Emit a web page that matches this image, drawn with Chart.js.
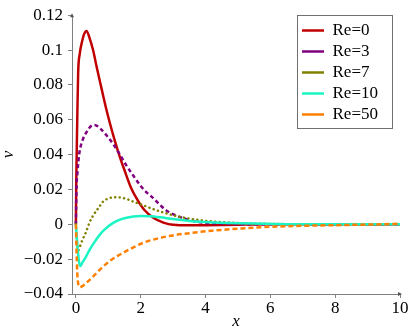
<!DOCTYPE html>
<html>
<head>
<meta charset="utf-8">
<script src="https://cdn.jsdelivr.net/npm/chart.js@4.4.1/dist/chart.umd.min.js"></script>
<style>
  body { margin: 0; background: #fff; }
  canvas { display: block; }
</style>
</head>
<body>
<canvas id="Chart" width="415" height="333"></canvas>
<script>
var names = ['Re=0', 'Re=3', 'Re=7', 'Re=10', 'Re=50']
var colors = ['#c00000', '#800080', '#808000', '#1af5c3', '#ff8000']
var dashes = [[], [4, 3], [0.1, 4.4], [], [5, 3]]
var caps = ['butt', 'butt', 'round', 'butt', 'butt']

var x0 = [0, 0.01, 0.02, 0.04, 0.07, 0.12, 0.18, 0.25, 0.33, 0.42, 0.53, 0.65, 0.79, 0.92, 1.05, 1.2, 1.35, 1.5, 1.7, 1.9, 2.1, 2.4, 2.7, 3.0, 3.5, 4, 5, 6, 8, 10]
var v0 = [0, 0.022, 0.035, 0.058, 0.087, 0.098, 0.104, 0.109, 0.111, 0.107, 0.1, 0.0895, 0.078, 0.0675, 0.058, 0.048, 0.039, 0.031, 0.021, 0.014, 0.0085, 0.0036, 0.001, -0.0003, -0.0006, -0.0005, -0.0002, 0, 0, 0]

var x3 = [0, 0.02, 0.05, 0.1, 0.15, 0.22, 0.3, 0.4, 0.53, 0.62, 0.75, 0.95, 1.15, 1.36, 1.55, 1.77, 2.0, 2.2, 2.39, 2.6, 2.8, 3.1, 3.5, 3.9, 4.5, 5, 6, 8, 10]
var v3 = [0, 0.021, 0.03, 0.04, 0.045, 0.049, 0.052, 0.055, 0.057, 0.0568, 0.055, 0.051, 0.046, 0.04, 0.034, 0.028, 0.022, 0.018, 0.015, 0.011, 0.0078, 0.005, 0.0025, 0.001, 0.0004, 0.0001, 0, 0, 0]

var x7 = [0, 0.03, 0.07, 0.12, 0.2, 0.3, 0.42, 0.53, 0.7, 0.84, 1.0, 1.2, 1.4, 1.6, 1.77, 2.0, 2.3, 2.6, 3.0, 3.4, 4, 5, 6, 8, 10]
var v7 = [0, -0.009, -0.015, -0.013, -0.009, -0.005, 0.001, 0.005, 0.0095, 0.013, 0.0148, 0.0155, 0.0153, 0.0143, 0.013, 0.0115, 0.0093, 0.0074, 0.0052, 0.0036, 0.002, 0.0007, 0.0002, 0, 0]

var x10 = [0, 0.03, 0.07, 0.1, 0.14, 0.2, 0.3, 0.43, 0.6, 0.74, 0.9, 1.15, 1.4, 1.77, 2.0, 2.3, 2.6, 3.0, 3.6, 4.1, 4.65, 5.5, 6.5, 8, 10]
var v10 = [0, -0.008, -0.017, -0.022, -0.024, -0.022, -0.019, -0.0144, -0.0095, -0.0059, -0.0028, 0.0008, 0.003, 0.0045, 0.0048, 0.0046, 0.004, 0.003, 0.0017, 0.0012, 0.0008, 0.0004, 0.0001, 0, 0]

var x50 = [0, 0.02, 0.04, 0.07, 0.12, 0.2, 0.3, 0.53, 0.8, 1.05, 1.3, 1.56, 2.08, 2.6, 3.1, 3.6, 4.1, 4.65, 5.2, 5.7, 6.5, 7.7, 8.8, 9.8, 10]
var v50 = [0, -0.015, -0.027, -0.034, -0.036, -0.0355, -0.034, -0.03, -0.025, -0.021, -0.018, -0.0153, -0.0106, -0.0078, -0.006, -0.0049, -0.0038, -0.003, -0.0023, -0.0017, -0.0011, -0.0006, -0.0002, 0.0002, 0.0004]

var xTicks = [0, 2, 4, 6, 8, 10]
var yTicks = [-0.04, -0.02, 0, 0.02, 0.04, 0.06, 0.08, 0.1, 0.12]

var xs = [x0, x3, x7, x10, x50]
var vs = [v0, v3, v7, v10, v50]

function pairs(x, v) {
    var out = []
    for (var i = 0; i < x.length; i++) {
        out.push({ x: x[i], y: v[i] })
    }
    return out
}

function fmt(v) {
    var s = String(Math.round(Math.abs(v) * 1000) / 1000)
    return v < 0 ? '\u2212' + s : s
}

var serif = '"Liberation Serif", "Times New Roman", "DejaVu Serif", serif'
var axisGray = '#808080'

var extras = {
    id: 'extras',
    afterLayout(chart) {
        var lg = chart.legend
        lg.left = 298
        lg.top = 18
        lg.right = lg.left + lg.width
        lg.bottom = lg.top + lg.height
    },
    afterDraw(chart) {
        var ctx = chart.ctx
        var a = chart.chartArea
        ctx.save()
        // axis arrows
        ctx.fillStyle = '#555'
        ctx.beginPath()
        ctx.moveTo(a.left, a.top - 2)
        ctx.lineTo(a.left - 2, a.top + 2)
        ctx.lineTo(a.left + 2, a.top + 2)
        ctx.fill()
        ctx.beginPath()
        ctx.moveTo(a.right + 2, a.bottom)
        ctx.lineTo(a.right - 2, a.bottom - 2)
        ctx.lineTo(a.right - 2, a.bottom + 2)
        ctx.fill()
        // legend frame
        var boxes = chart.legend.legendHitBoxes
        if (boxes && boxes.length) {
            var top = boxes[0].top - 7
            var last = boxes[boxes.length - 1]
            var bottom = last.top + last.height + 4.5
            ctx.strokeStyle = '#707070'
            ctx.lineWidth = 1
            ctx.strokeRect(297.5, Math.round(top) + 0.5, 95, Math.round(bottom - top))
        }
        ctx.restore()
    }
}

function draw() {
    var datasets = []
    for (var i = 0; i < names.length; i++) {
        datasets.push({
            label: names[i],
            data: pairs(xs[i], vs[i]),
            borderColor: colors[i],
            backgroundColor: colors[i],
            borderWidth: 2.5,
            borderDash: dashes[i],
            borderCapStyle: caps[i],
            pointRadius: 0,
            cubicInterpolationMode: 'monotone',
            order: names.length - i
        })
    }

    var ctx = document.getElementById('Chart').getContext('2d')
    var myChart = new Chart(ctx, {
        type: 'line',
        data: { datasets: datasets },
        options: {
            responsive: false,
            animation: false,
            layout: { padding: { top: 12, right: 15, left: 0, bottom: 0 } },
            plugins: {
                tooltip: { enabled: false },
                legend: {
                    position: 'chartArea',
                    align: 'start',
                    labels: {
                        usePointStyle: true,
                        pointStyle: 'line',
                        pointStyleWidth: 22,
                        padding: 4,
                        color: '#000',
                        font: { family: serif, size: 17 },
                        sort: (a, b) => a.datasetIndex - b.datasetIndex
                    }
                }
            },
            scales: {
                x: {
                    type: 'linear',
                    min: -0.12,
                    max: 10,
                    afterBuildTicks: (scale) => { scale.ticks = xTicks.map(v => ({ value: v })) },
                    afterFit: (scale) => { scale.height = 39 },
                    grid: { drawOnChartArea: false, drawTicks: true, tickLength: 4, color: axisGray },
                    border: { color: axisGray, width: 1 },
                    ticks: {
                        padding: 0,
                        color: '#000',
                        maxRotation: 0,
                        font: { family: serif, size: 17 },
                        callback: (v) => fmt(v)
                    },
                    title: {
                        display: true,
                        text: 'x',
                        color: '#000',
                        padding: { top: 0, bottom: 1 },
                        font: { family: serif, size: 17, style: 'italic' }
                    }
                },
                y: {
                    type: 'linear',
                    min: -0.04,
                    max: 0.12,
                    afterBuildTicks: (scale) => { scale.ticks = yTicks.map(v => ({ value: v })) },
                    afterFit: (scale) => { scale.width = 72 },
                    grid: { drawOnChartArea: false, drawTicks: true, tickLength: 4, color: axisGray },
                    border: { color: axisGray, width: 1 },
                    ticks: {
                        padding: 5,
                        color: '#000',
                        font: { family: serif, size: 17 },
                        callback: (v) => fmt(v)
                    },
                    title: {
                        display: true,
                        text: 'v',
                        color: '#000',
                        padding: 0,
                        font: { family: serif, size: 17, style: 'italic', lineHeight: 1 }
                    }
                }
            }
        },
        plugins: [extras]
    })
}

Promise.all([
    document.fonts.load('17px "Liberation Serif"'),
    document.fonts.load('italic 17px "Liberation Serif"')
]).then(draw, draw)
</script>
</body>
</html>
